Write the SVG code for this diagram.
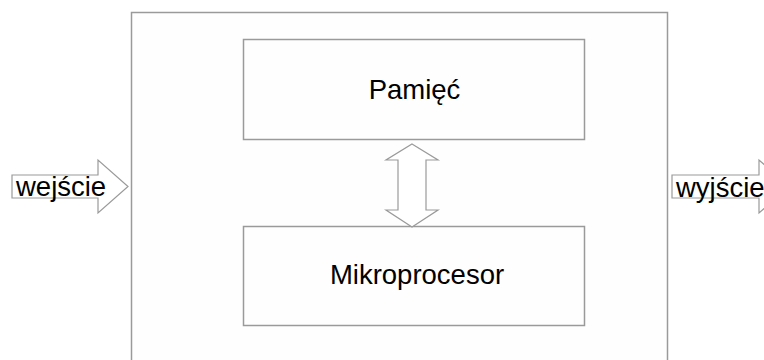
<svg xmlns="http://www.w3.org/2000/svg" width="764" height="360" viewBox="0 0 764 360">
<style>
.box{fill:#fefefe;stroke:#9a9a9a;stroke-width:1.5}
.arr{fill:#ffffff;stroke:#9a9a9a;stroke-width:1.2;stroke-linejoin:miter}
.lbl{font-family:"Liberation Sans",Arial,sans-serif;font-size:27.5px;fill:#000}
</style>
<rect width="764" height="360" fill="#ffffff"/>
<g id="system"><rect class="box" x="131.5" y="12.5" width="536" height="400"/></g>
<g id="pamiec">
<rect class="box" x="243.5" y="39.5" width="341" height="100"/>
<text class="lbl" x="414.5" y="99" text-anchor="middle">Pamięć</text>
</g>
<g id="mikroprocesor">
<rect class="box" x="243.5" y="226.5" width="341" height="99"/>
<text class="lbl" x="417" y="284" text-anchor="middle">Mikroprocesor</text>
</g>
<g id="connectors">
<path id="bus" class="arr" d="M412,144 L438,160 L426,160 L426,210 L438,210 L412,227 L386,210 L398,210 L398,160 L386,160 Z"/>
</g>
<g id="wejscie">
<path class="arr" d="M12,175 L98,175 L98,160 L128,186.5 L98,213 L98,198 L12,198 Z"/>
<text class="lbl" x="16" y="196">wejście</text>
</g>
<g id="wyjscie">
<path class="arr" d="M672,175 L759,175 L759,160 L789,186.5 L759,213 L759,198 L672,198 Z"/>
<text class="lbl" x="676" y="197">wyjście</text>
</g>
</svg>
